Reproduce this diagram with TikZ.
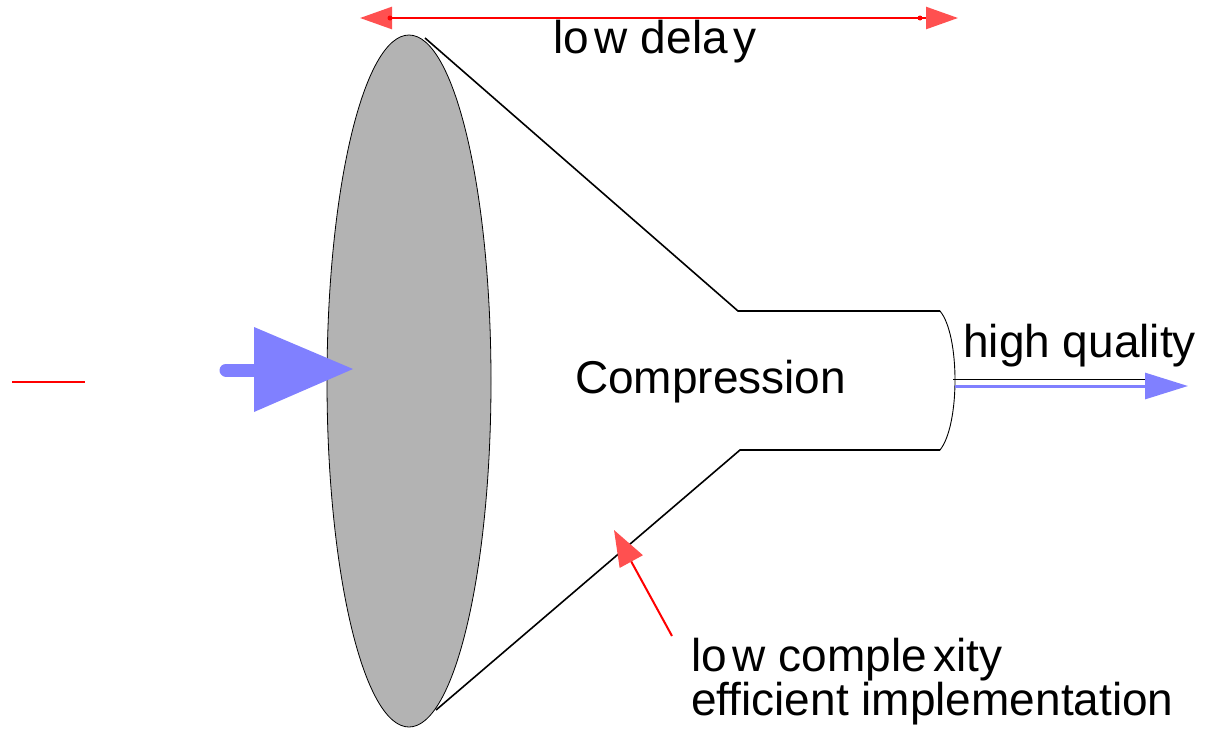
\documentclass[tikz,border=0pt]{standalone}
\usepackage{fontspec}
\setmainfont{Liberation Sans}
\usetikzlibrary{arrows.meta,shapes.geometric}
\definecolor{lensgray}{RGB}{179,179,179}
\definecolor{softred}{RGB}{255,80,80}
\definecolor{softblue}{RGB}{128,128,255}
\tikzset{redhead/.tip={Triangle[length=32pt,width=22pt,color=softred]}}
\begin{document}
\begin{tikzpicture}[x=1pt,y=-1pt,
  caption/.style={font=\fontsize{46}{38}\selectfont, inner sep=0pt, anchor=base west},
  funnel/.style={line width=1.6pt, black}]
\useasboundingbox (0,0) rectangle (1207,729);

% lens
\node (lens) [ellipse, draw=black, line width=0.8pt, fill=lensgray,
  minimum width=164pt, minimum height=692pt, inner sep=0pt] at (409,381) {};

% funnel outline
\coordinate (tl) at (425,38);
\coordinate (tn) at (738,311);
\coordinate (tr) at (940,311);
\coordinate (bl) at (436,710);
\coordinate (bn) at (740,450);
\coordinate (br) at (940,450);
\draw[funnel] (tl) -- (tn) -- (tr);
\draw[funnel] (bl) -- (bn) -- (br);
\draw[line width=0.9pt] (tr) .. controls (960,335) and (960,425) .. (br);

% labels
\node[caption] (delay) at (553,53) {lo\kern6pt w dela\kern6pt y};
\node[caption] (comp) at (575,393) {Compression};
\node[caption] (hq) at (963,357) {high quality};
\node[caption, align=left] (cx) at (691,715)
  {lo\kern6pt w comple\kern6pt xity\\efficient implementation};

% delay span
\coordinate (dl) at (360,18);
\coordinate (dr) at (958,18);
\draw[red, line width=2.5pt, redhead-redhead] (dl) -- (dr);
\fill[red] (390,18) circle (2.5);
\fill[red] (920,18) circle (2.5);

% pointer to the funnel wall
\coordinate (cxp) at (672,636);
\coordinate (wall) at (614,530);
\draw[red, line width=2pt, -{Triangle[length=36pt,width=26pt,color=softred]}] (cxp) -- (wall);

% input
\coordinate (src) at (12,382);
\coordinate (srcend) at (85,382);
\draw[red, line width=2pt] (src) -- (srcend);
\coordinate (inS) at (226,370);
\coordinate (inE) at (353,369);
\draw[softblue, line width=13pt, line cap=round] (inS) -- (256,370);
\fill[softblue] (254,327) -- (inE) -- (254,412) -- cycle;

% output
\coordinate (outS) at (953,379);
\coordinate (outE) at (1150,379);
\draw[line width=1pt] (outS) -- (outE);
\coordinate (oS) at (955,386);
\coordinate (oE) at (1188,386);
\draw[softblue, line width=3pt, -{Triangle[length=43pt,width=26pt]}] (oS) -- (oE);
\end{tikzpicture}
\end{document}
